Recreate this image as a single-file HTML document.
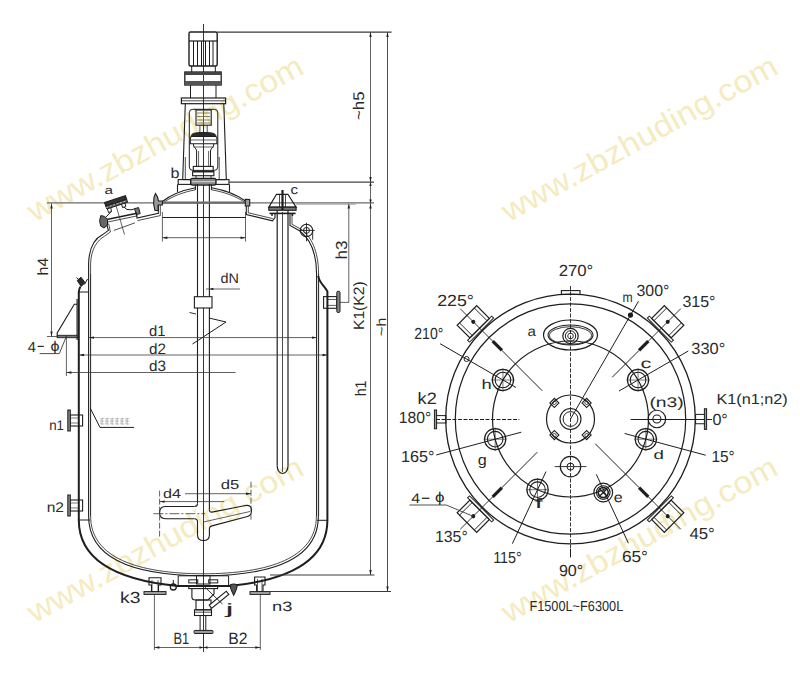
<!DOCTYPE html>
<html><head><meta charset="utf-8"><style>
html,body{margin:0;padding:0;background:#fff;width:800px;height:678px;overflow:hidden}
svg{display:block}
text{font-family:"Liberation Sans",sans-serif;text-rendering:geometricPrecision}
</style></head><body>
<svg width="800" height="678" viewBox="0 0 800 678">
<rect width="800" height="678" fill="#ffffff"/>
<text x="0" y="0" font-size="31" fill="#f5ebc0" transform="translate(34.5,222.6) rotate(-28.9)" textLength="310" lengthAdjust="spacingAndGlyphs">www.zbzhuding.com</text>
<text x="0" y="0" font-size="31" fill="#f5ebc0" transform="translate(508.7,222.6) rotate(-28.9)" textLength="310" lengthAdjust="spacingAndGlyphs">www.zbzhuding.com</text>
<text x="0" y="0" font-size="31" fill="#f5ebc0" transform="translate(34.5,623.6) rotate(-28.9)" textLength="310" lengthAdjust="spacingAndGlyphs">www.zbzhuding.com</text>
<text x="0" y="0" font-size="31" fill="#f5ebc0" transform="translate(508.7,623.6) rotate(-28.9)" textLength="310" lengthAdjust="spacingAndGlyphs">www.zbzhuding.com</text>
<line x1="203.50" y1="24.00" x2="203.50" y2="652.00" stroke="#1e1e1e" stroke-width="0.9" />
<rect x="189.00" y="32.00" width="28.20" height="34.00" stroke="#1e1e1e" stroke-width="1.4" fill="none" rx="1.5"/>
<line x1="189.00" y1="41.00" x2="217.20" y2="41.00" stroke="#1e1e1e" stroke-width="1.2" />
<line x1="193.50" y1="41.00" x2="193.50" y2="66.00" stroke="#1e1e1e" stroke-width="1.0" />
<line x1="197.50" y1="41.00" x2="197.50" y2="66.00" stroke="#1e1e1e" stroke-width="1.0" />
<line x1="201.50" y1="41.00" x2="201.50" y2="66.00" stroke="#1e1e1e" stroke-width="1.0" />
<line x1="205.50" y1="41.00" x2="205.50" y2="66.00" stroke="#1e1e1e" stroke-width="1.0" />
<line x1="209.50" y1="41.00" x2="209.50" y2="66.00" stroke="#1e1e1e" stroke-width="1.0" />
<line x1="213.00" y1="41.00" x2="213.00" y2="66.00" stroke="#1e1e1e" stroke-width="1.0" />
<line x1="191.70" y1="66.00" x2="191.70" y2="72.00" stroke="#1e1e1e" stroke-width="1.0" />
<line x1="215.30" y1="66.00" x2="215.30" y2="72.00" stroke="#1e1e1e" stroke-width="1.0" />
<rect x="184.80" y="72.00" width="36.40" height="13.00" stroke="#1e1e1e" stroke-width="1.3" fill="none" rx="0"/>
<rect x="184.80" y="72.00" width="36.40" height="3.00" stroke="#1e1e1e" stroke-width="0" fill="#444" rx="0"/>
<rect x="184.80" y="81.00" width="36.40" height="4.00" stroke="#1e1e1e" stroke-width="0" fill="#555" rx="0"/>
<line x1="190.50" y1="85.00" x2="190.50" y2="98.00" stroke="#1e1e1e" stroke-width="1.0" />
<line x1="216.00" y1="85.00" x2="216.00" y2="98.00" stroke="#1e1e1e" stroke-width="1.0" />
<rect x="181.40" y="98.00" width="44.20" height="5.70" stroke="#1e1e1e" stroke-width="1.2" fill="none" rx="0"/>
<line x1="181.40" y1="100.80" x2="225.60" y2="100.80" stroke="#1e1e1e" stroke-width="0.8" />
<path d="M185.3,103.5 L182.7,179.7" stroke="#1e1e1e" stroke-width="1.1" fill="none" />
<path d="M223.8,103.5 L226.3,179.7" stroke="#1e1e1e" stroke-width="1.1" fill="none" />
<path d="M185.3,157 L185.3,179.7 M219.2,157 L219.2,179.7" stroke="#1e1e1e" stroke-width="0.8" fill="none" />
<line x1="182.70" y1="179.70" x2="226.30" y2="179.70" stroke="#1e1e1e" stroke-width="0.8" />
<rect x="189.30" y="109.30" width="28.50" height="61.10" stroke="#1e1e1e" stroke-width="1.0" fill="none" rx="3.5"/>
<rect x="196.00" y="110.00" width="15.20" height="15.20" stroke="#1e1e1e" stroke-width="1.1" fill="none" rx="0"/>
<g stroke="#6f6235" stroke-width="0.8" fill="none"><path d="M197,113 h13"/><path d="M197,116.5 h13"/><path d="M197,120 h13"/><path d="M197,123 h13"/><path d="M203.5,110 v15"/></g>
<line x1="199.90" y1="125.20" x2="199.90" y2="132.50" stroke="#1e1e1e" stroke-width="0.8" />
<line x1="207.20" y1="125.20" x2="207.20" y2="132.50" stroke="#1e1e1e" stroke-width="0.8" />
<path d="M191.3,136.5 C191.3,133.5 194,132.5 203.5,132.5 C213,132.5 215.9,133.5 215.9,136.5 Z" stroke="#1e1e1e" stroke-width="1.0" fill="#2a2a2a" />
<path d="M190.3,143.8 L190.3,138 Q190.3,136.5 192,136.5 L215,136.5 Q216.9,136.5 216.9,138 L216.9,143.8 Z" stroke="#1e1e1e" stroke-width="1.1" fill="none" />
<line x1="191.00" y1="140.00" x2="216.00" y2="140.00" stroke="#1e1e1e" stroke-width="0.7" />
<path d="M193.3,143.8 C193.3,148 196.6,148 196.6,151 L196.6,166.4 M213.9,143.8 C213.9,148 210.5,148 210.5,151 L210.5,166.4" stroke="#1e1e1e" stroke-width="1.0" fill="none" />
<line x1="193.30" y1="147.00" x2="213.90" y2="147.00" stroke="#1e1e1e" stroke-width="0.7" />
<line x1="198.60" y1="151.00" x2="198.60" y2="166.40" stroke="#1e1e1e" stroke-width="0.7" />
<line x1="208.60" y1="151.00" x2="208.60" y2="166.40" stroke="#1e1e1e" stroke-width="0.7" />
<rect x="193.30" y="166.40" width="19.90" height="5.30" stroke="#1e1e1e" stroke-width="1.1" fill="none" rx="0"/>
<rect x="192.60" y="171.70" width="21.30" height="4.00" stroke="#1e1e1e" stroke-width="1.1" fill="none" rx="0"/>
<line x1="196.00" y1="175.70" x2="196.00" y2="178.30" stroke="#1e1e1e" stroke-width="0.9" />
<line x1="211.00" y1="175.70" x2="211.00" y2="178.30" stroke="#1e1e1e" stroke-width="0.9" />
<rect x="178.20" y="179.60" width="50.80" height="4.80" stroke="#1e1e1e" stroke-width="1.1" fill="none" rx="0"/>
<rect x="190.60" y="178.30" width="25.40" height="6.80" stroke="#1e1e1e" stroke-width="1.3" fill="#888" rx="2"/>
<line x1="192.00" y1="181.70" x2="215.00" y2="181.70" stroke="#fff" stroke-width="0.7" />
<line x1="177.50" y1="184.40" x2="177.50" y2="192.00" stroke="#1e1e1e" stroke-width="1.1" />
<line x1="229.50" y1="184.40" x2="229.50" y2="192.00" stroke="#1e1e1e" stroke-width="1.1" />
<text x="170.50" y="177.50" font-size="14.5" fill="#2a2a2a" textLength="9.00" lengthAdjust="spacingAndGlyphs">b</text>
<line x1="217.20" y1="32.10" x2="391.60" y2="32.10" stroke="#3a3a3a" stroke-width="1.1" />
<line x1="229.00" y1="182.10" x2="374.00" y2="182.10" stroke="#444" stroke-width="1.3" />
<line x1="47.00" y1="202.80" x2="374.00" y2="202.80" stroke="#6a6a6a" stroke-width="1.2" />
<line x1="47.00" y1="336.50" x2="77.00" y2="336.50" stroke="#3a3a3a" stroke-width="0.8" />
<line x1="197.50" y1="184.00" x2="197.50" y2="503.50" stroke="#1e1e1e" stroke-width="1.1" />
<line x1="209.40" y1="184.00" x2="209.40" y2="509.50" stroke="#1e1e1e" stroke-width="1.1" />
<path d="M197.5,503.5 Q197.5,506.5 194.5,506.5 M209.4,509.5 Q209.4,512.4 212,512.1" stroke="#1e1e1e" stroke-width="1.1" fill="none" />
<path d="M194.5,518.8 Q197.5,518.8 197.5,522 L197.5,535 Q197.5,540.5 203.5,540.5 Q209.4,540.5 209.4,535 L209.4,529 Q209.4,526.4 212,525.9" stroke="#1e1e1e" stroke-width="1.1" fill="none" />
<path d="M162.4,201.5 C172,194 184,190 195.4,187.8" stroke="#1e1e1e" stroke-width="1.1" fill="none" />
<path d="M162.4,203.3 C172,196 184,192 195.4,189.8" stroke="#1e1e1e" stroke-width="0.8" fill="none" />
<path d="M246.3,201.5 C236,194 224,190 211.4,187.8" stroke="#1e1e1e" stroke-width="1.1" fill="none" />
<path d="M246.3,203.3 C236,196 224,192 211.4,189.8" stroke="#1e1e1e" stroke-width="0.8" fill="none" />
<line x1="195.40" y1="184.40" x2="195.40" y2="190.00" stroke="#1e1e1e" stroke-width="1.0" />
<line x1="211.40" y1="184.40" x2="211.40" y2="190.00" stroke="#1e1e1e" stroke-width="1.0" />
<line x1="157.60" y1="202.60" x2="249.00" y2="202.60" stroke="#6a6a6a" stroke-width="2.2" />
<path d="M155.5,193.4 L157.5,197 L158.5,201 L162.4,201 L162.4,205 L158.3,205 L158.3,210.5 L155,210.5 L153.6,204 L154,197 Z" stroke="#1e1e1e" stroke-width="1.1" fill="#999" />
<path d="M245.3,199.2 L249.7,199.5 L249.7,206 L245.3,206 Z" stroke="#1e1e1e" stroke-width="1.1" fill="#999" />
<line x1="162.40" y1="217.50" x2="246.00" y2="217.50" stroke="#1e1e1e" stroke-width="1.0" />
<line x1="162.40" y1="212.00" x2="162.40" y2="241.50" stroke="#3a3a3a" stroke-width="0.8" />
<line x1="245.50" y1="212.00" x2="245.50" y2="241.50" stroke="#3a3a3a" stroke-width="0.8" />
<line x1="162.40" y1="237.70" x2="245.50" y2="237.70" stroke="#3a3a3a" stroke-width="0.8" />
<path d="M162.40,237.70 L167.40,236.50 L167.40,238.90 Z" fill="#1e1e1e" stroke="none"/>
<path d="M245.50,237.70 L240.50,238.90 L240.50,236.50 Z" fill="#1e1e1e" stroke="none"/>
<path d="M88.6,274 L88.6,264 C89,246 96,238 102.7,234.6 L108.4,230.4 L106.6,224.2" stroke="#1e1e1e" stroke-width="1.1" fill="none" />
<path d="M90.6,274 L90.6,264 C91,248 98,240 104.5,236.2 L110.4,232 L108.6,223.6" stroke="#1e1e1e" stroke-width="0.8" fill="none" />
<path d="M136.5,214 L137,218 L158.3,213.2 L158.3,205" stroke="#1e1e1e" stroke-width="1.1" fill="none" />
<path d="M137.5,220.6 L160.3,215.6 L160.3,205" stroke="#1e1e1e" stroke-width="0.8" fill="none" />
<path d="M104.6,202.6 L125.4,195.8 L126.6,199.2 L105.8,206 Z" stroke="#1e1e1e" stroke-width="1.1" fill="#333" />
<path d="M105.8,206 L126.6,199.2 L127.6,202.3 L106.8,209 Z" stroke="#1e1e1e" stroke-width="1.0" fill="#555" />
<line x1="106.30" y1="207.50" x2="127.00" y2="200.70" stroke="#eee" stroke-width="0.7" stroke-dasharray="2,1.6"/>
<path d="M107.5,209 L108.5,212.5 L111.5,211.6 L110.8,208 M121.5,204.2 L122.6,207.6 L125.8,206.6 L125,203.1" stroke="#1e1e1e" stroke-width="1.0" fill="none" />
<path d="M111.2,211.6 L102.8,220.3 M123.8,207 Q126.5,210.5 131,209.8 L135,208.8" stroke="#1e1e1e" stroke-width="1.0" fill="none" />
<path d="M134.6,208.6 L138.6,207.6 L140.2,213.6 L136.2,214.6 Z" stroke="#1e1e1e" stroke-width="1.0" fill="#777" />
<path d="M102,220.5 L137,213.3" stroke="#1e1e1e" stroke-width="1.5" fill="none" />
<path d="M103,223 L137.6,215.8" stroke="#1e1e1e" stroke-width="0.8" fill="none" />
<path d="M100.8,215.6 L99.6,220.5 L100.6,226 L104,228 L107.5,225.2 L107.5,219.5 L104.6,216.4 Z" stroke="#1e1e1e" stroke-width="1.0" fill="#666" />
<line x1="114.00" y1="198.60" x2="124.50" y2="234.60" stroke="#3a3a3a" stroke-width="0.8" />
<line x1="114.00" y1="230.40" x2="135.00" y2="222.80" stroke="#3a3a3a" stroke-width="0.9" />
<text x="104.50" y="194.00" font-size="11.5" fill="#2a2a2a" textLength="8.50" lengthAdjust="spacingAndGlyphs">a</text>
<path d="M276.5,194.3 L287.9,194.3 L296.1,207.2 L268.8,207.2 Z" stroke="#1e1e1e" stroke-width="1.2" fill="none" />
<rect x="268.80" y="207.20" width="27.30" height="3.10" stroke="#1e1e1e" stroke-width="1.1" fill="#777" rx="0"/>
<line x1="269.50" y1="213.40" x2="295.60" y2="213.40" stroke="#1e1e1e" stroke-width="1.6" />
<line x1="272.00" y1="213.00" x2="272.00" y2="216.00" stroke="#1e1e1e" stroke-width="1.4" />
<line x1="292.50" y1="213.00" x2="292.50" y2="216.00" stroke="#1e1e1e" stroke-width="1.4" />
<line x1="282.50" y1="190.00" x2="282.50" y2="210.00" stroke="#1e1e1e" stroke-width="2.2" />
<line x1="279.50" y1="195.00" x2="279.50" y2="207.00" stroke="#1e1e1e" stroke-width="0.8" />
<line x1="285.50" y1="195.00" x2="285.50" y2="207.00" stroke="#1e1e1e" stroke-width="0.8" />
<text x="290.50" y="193.50" font-size="13" fill="#2a2a2a" textLength="7.50" lengthAdjust="spacingAndGlyphs">c</text>
<line x1="277.20" y1="210.30" x2="277.20" y2="465.40" stroke="#1e1e1e" stroke-width="1.2" />
<line x1="288.00" y1="210.30" x2="288.00" y2="465.40" stroke="#1e1e1e" stroke-width="1.2" />
<line x1="282.50" y1="212.00" x2="282.50" y2="472.00" stroke="#1e1e1e" stroke-width="0.8" />
<path d="M277.2,465.4 Q277.2,472.5 282.6,473.5 Q288,472.5 288,465.4" stroke="#1e1e1e" stroke-width="1.2" fill="none" />
<path d="M246.3,206 L246.3,214.5 L272.5,220.8 L275,217.5 L275,213.4" stroke="#1e1e1e" stroke-width="1.1" fill="none" />
<path d="M248.3,206 L248.3,212.8 L272.8,218.6" stroke="#1e1e1e" stroke-width="0.8" fill="none" />
<path d="M290,213.4 L290,225.5 L299.5,230.8 C309,238 316.6,252 316.6,274" stroke="#1e1e1e" stroke-width="1.1" fill="none" />
<path d="M292,213.4 L292,224.3 L301,229.2 C311,236 318.6,251 318.6,274" stroke="#1e1e1e" stroke-width="0.8" fill="none" />
<circle cx="306.50" cy="230.40" r="6.20" stroke="#1e1e1e" stroke-width="1.1" fill="none" />
<circle cx="306.50" cy="230.40" r="3.00" stroke="#1e1e1e" stroke-width="1.0" fill="none" />
<line x1="299.70" y1="230.40" x2="314.70" y2="230.40" stroke="#1e1e1e" stroke-width="0.9" />
<line x1="306.50" y1="222.70" x2="306.50" y2="241.30" stroke="#1e1e1e" stroke-width="0.9" />
<line x1="312.70" y1="230.40" x2="312.70" y2="239.70" stroke="#1e1e1e" stroke-width="0.9" />
<line x1="88.60" y1="274.00" x2="88.60" y2="516.00" stroke="#1e1e1e" stroke-width="1.1" />
<line x1="90.60" y1="274.00" x2="90.60" y2="516.00" stroke="#1e1e1e" stroke-width="1.0" />
<line x1="316.60" y1="274.00" x2="316.60" y2="516.00" stroke="#1e1e1e" stroke-width="1.1" />
<line x1="318.60" y1="274.00" x2="318.60" y2="516.00" stroke="#1e1e1e" stroke-width="1.0" />
<path d="M80.4,286.6 C79.2,289 78.8,290 78.8,292 L78.8,520" stroke="#1e1e1e" stroke-width="2.0" fill="none" />
<line x1="78.80" y1="292.00" x2="88.60" y2="292.00" stroke="#1e1e1e" stroke-width="1.0" />
<path d="M318.3,276 C319,283 325,286 327.4,291.3 L327.4,520" stroke="#1e1e1e" stroke-width="2.0" fill="none" />
<line x1="78.80" y1="520.00" x2="90.00" y2="520.00" stroke="#1e1e1e" stroke-width="1.0" />
<line x1="317.00" y1="520.30" x2="327.40" y2="520.30" stroke="#1e1e1e" stroke-width="1.0" />
<path d="M77.2,280.5 L81,277.2 L85,282.6 L81.2,286.6 Z" fill="#2a2a2a" stroke="#222" stroke-width="1"/>
<line x1="76.50" y1="277.50" x2="78.50" y2="279.50" stroke="#1e1e1e" stroke-width="1.0" />
<line x1="84.50" y1="284.50" x2="87.60" y2="278.80" stroke="#1e1e1e" stroke-width="1.0" />
<path d="M88.6,516 C88.6,560 137,575.5 203.5,575.8 C270,575.5 318.4,560 318.4,516" stroke="#1e1e1e" stroke-width="1.1" fill="none" />
<path d="M90.6,516 C90.6,558 138,573.5 203.5,573.8 C269,573.5 316.4,558 316.4,516" stroke="#1e1e1e" stroke-width="0.8" fill="none" />
<path d="M78.8,520 C78.8,560 117,580 177.5,586 L229.5,586 C290,580 327.4,560 327.4,520" stroke="#1e1e1e" stroke-width="2.0" fill="none" />
<path d="M77.1,304.3 L74.3,304.3 L57.2,333 L57.2,335.8" stroke="#1e1e1e" stroke-width="1.1" fill="none" />
<line x1="77.10" y1="299.00" x2="77.10" y2="340.00" stroke="#1e1e1e" stroke-width="1.2" />
<rect x="57.20" y="335.30" width="19.90" height="2.40" stroke="#1e1e1e" stroke-width="0.9" fill="#777" rx="0"/>
<text x="27.80" y="351.60" font-size="14.5" fill="#2a2a2a" textLength="8.20" lengthAdjust="spacingAndGlyphs">4</text>
<line x1="37.60" y1="346.40" x2="43.80" y2="346.40" stroke="#2a2a2a" stroke-width="1.2" />
<text x="50.50" y="350.50" font-size="14" fill="#2a2a2a" textLength="9.00" lengthAdjust="spacingAndGlyphs">ϕ</text>
<path d="M39.6,353.6 L59.3,353.6 L66.5,336" stroke="#3a3a3a" stroke-width="0.9" fill="none" />
<line x1="66.40" y1="336.00" x2="66.40" y2="376.00" stroke="#3a3a3a" stroke-width="0.8" />
<line x1="51.50" y1="203.50" x2="51.50" y2="336.50" stroke="#3a3a3a" stroke-width="0.8" />
<path d="M51.50,203.50 L52.70,208.50 L50.30,208.50 Z" fill="#1e1e1e" stroke="none"/>
<path d="M51.50,336.50 L50.30,331.50 L52.70,331.50 Z" fill="#1e1e1e" stroke="none"/>
<text x="0" y="0" font-size="15" fill="#2a2a2a" textLength="17.70" lengthAdjust="spacingAndGlyphs" transform="translate(48.00,275.40) rotate(-90)">h4</text>
<rect x="323.60" y="296.60" width="13.20" height="11.70" stroke="#1e1e1e" stroke-width="1.1" fill="none" rx="0"/>
<line x1="327.50" y1="299.50" x2="336.80" y2="299.50" stroke="#1e1e1e" stroke-width="0.7" />
<line x1="327.50" y1="305.40" x2="336.80" y2="305.40" stroke="#1e1e1e" stroke-width="0.7" />
<rect x="336.80" y="291.30" width="3.20" height="21.20" stroke="#1e1e1e" stroke-width="1.0" fill="#888" rx="1.2"/>
<line x1="339.70" y1="302.40" x2="349.00" y2="302.40" stroke="#3a3a3a" stroke-width="0.8" />
<line x1="89.00" y1="337.60" x2="317.00" y2="337.60" stroke="#3a3a3a" stroke-width="0.8" />
<path d="M89.00,337.60 L94.00,336.40 L94.00,338.80 Z" fill="#1e1e1e" stroke="none"/>
<path d="M317.00,337.60 L312.00,338.80 L312.00,336.40 Z" fill="#1e1e1e" stroke="none"/>
<line x1="79.00" y1="355.00" x2="327.50" y2="355.00" stroke="#3a3a3a" stroke-width="0.8" />
<path d="M79.00,355.00 L84.00,353.80 L84.00,356.20 Z" fill="#1e1e1e" stroke="none"/>
<path d="M327.50,355.00 L322.50,356.20 L322.50,353.80 Z" fill="#1e1e1e" stroke="none"/>
<line x1="66.40" y1="372.50" x2="235.60" y2="372.50" stroke="#3a3a3a" stroke-width="0.8" />
<path d="M66.40,372.50 L71.40,371.30 L71.40,373.70 Z" fill="#1e1e1e" stroke="none"/>
<text x="149.00" y="336.00" font-size="15" fill="#2a2a2a" textLength="16.50" lengthAdjust="spacingAndGlyphs">d1</text>
<text x="149.00" y="353.50" font-size="15" fill="#2a2a2a" textLength="17.00" lengthAdjust="spacingAndGlyphs">d2</text>
<text x="149.00" y="371.00" font-size="15" fill="#2a2a2a" textLength="17.00" lengthAdjust="spacingAndGlyphs">d3</text>
<text x="220.60" y="283.00" font-size="14" fill="#2a2a2a" textLength="18.40" lengthAdjust="spacingAndGlyphs">dN</text>
<line x1="206.00" y1="289.00" x2="240.00" y2="289.00" stroke="#3a3a3a" stroke-width="0.8" />
<path d="M209.40,289.00 L213.40,287.80 L213.40,290.20 Z" fill="#1e1e1e" stroke="none"/>
<rect x="194.40" y="296.70" width="17.60" height="11.30" stroke="#1e1e1e" stroke-width="1.1" fill="#fff" rx="0"/>
<line x1="189.50" y1="312.50" x2="196.00" y2="314.00" stroke="#1e1e1e" stroke-width="0.9" />
<path d="M192.5,344 L226,322 L209,318" stroke="#1e1e1e" stroke-width="1.0" fill="none" />
<rect x="70.30" y="415.00" width="12.30" height="11.00" stroke="#1e1e1e" stroke-width="1.1" fill="none" rx="0"/>
<line x1="70.30" y1="418.00" x2="79.00" y2="418.00" stroke="#1e1e1e" stroke-width="0.6" />
<line x1="70.30" y1="423.00" x2="79.00" y2="423.00" stroke="#1e1e1e" stroke-width="0.6" />
<rect x="67.80" y="410.00" width="2.50" height="21.00" stroke="#1e1e1e" stroke-width="1.0" fill="#888" rx="0"/>
<rect x="70.30" y="500.00" width="12.30" height="11.00" stroke="#1e1e1e" stroke-width="1.1" fill="none" rx="0"/>
<line x1="70.30" y1="503.00" x2="79.00" y2="503.00" stroke="#1e1e1e" stroke-width="0.6" />
<line x1="70.30" y1="508.00" x2="79.00" y2="508.00" stroke="#1e1e1e" stroke-width="0.6" />
<rect x="67.80" y="495.00" width="2.50" height="21.00" stroke="#1e1e1e" stroke-width="1.0" fill="#888" rx="0"/>
<text x="49.20" y="430.30" font-size="14" fill="#2a2a2a" textLength="14.80" lengthAdjust="spacingAndGlyphs">n1</text>
<text x="46.70" y="512.00" font-size="14" fill="#2a2a2a" textLength="17.30" lengthAdjust="spacingAndGlyphs">n2</text>
<path d="M90.3,408.3 L100,427.4 L134.1,427.4" stroke="#1e1e1e" stroke-width="1.0" fill="none" />
<g stroke="#999" stroke-width="0.55" fill="none"><path d="M100.5,418.5 h3.8 M100.8,421 h3.4 M100.5,424 h3.8 M102.4,417.8 v6.8 M101.0,419 v5" /><path d="M105.5,418.5 h3.8 M105.8,421 h3.4 M105.5,424 h3.8 M107.4,417.8 v6.8 M106.0,419 v5" /><path d="M110.5,418.5 h3.8 M110.8,421 h3.4 M110.5,424 h3.8 M112.4,417.8 v6.8 M111.0,419 v5" /><path d="M115.5,418.5 h3.8 M115.8,421 h3.4 M115.5,424 h3.8 M117.4,417.8 v6.8 M116.0,419 v5" /><path d="M120.5,418.5 h3.8 M120.8,421 h3.4 M120.5,424 h3.8 M122.4,417.8 v6.8 M121.0,419 v5" /><path d="M125.5,418.5 h3.8 M125.8,421 h3.4 M125.5,424 h3.8 M127.4,417.8 v6.8 M126.0,419 v5" /></g>
<path d="M194.5,506.5 L165.5,506.5 Q159.6,506.5 159.6,512.6 Q159.6,518.8 165.5,518.8 L194.5,518.8" stroke="#1e1e1e" stroke-width="1.1" fill="none" />
<path d="M212,512.1 L245.5,505.5 Q251.5,504.5 251.5,510.5 Q251.5,515.5 247.5,516.5 L212,525.9" stroke="#1e1e1e" stroke-width="1.1" fill="none" />
<line x1="153.40" y1="513.70" x2="205.00" y2="513.70" stroke="#3a3a3a" stroke-width="0.8" stroke-dasharray="10,2,2,2"/>
<line x1="203.50" y1="522.00" x2="250.00" y2="511.50" stroke="#3a3a3a" stroke-width="0.8" />
<line x1="159.60" y1="490.60" x2="159.60" y2="537.40" stroke="#3a3a3a" stroke-width="0.8" stroke-dasharray="6,2"/>
<line x1="159.60" y1="501.60" x2="224.30" y2="501.60" stroke="#3a3a3a" stroke-width="0.8" />
<path d="M159.60,501.60 L164.60,500.40 L164.60,502.80 Z" fill="#1e1e1e" stroke="none"/>
<text x="163.00" y="498.20" font-size="13" fill="#2a2a2a" textLength="18.00" lengthAdjust="spacingAndGlyphs">d4</text>
<line x1="251.00" y1="481.70" x2="251.00" y2="521.60" stroke="#3a3a3a" stroke-width="0.8" stroke-dasharray="6,2"/>
<line x1="185.00" y1="493.70" x2="251.00" y2="493.70" stroke="#3a3a3a" stroke-width="0.8" />
<path d="M251.00,493.70 L246.00,494.90 L246.00,492.50 Z" fill="#1e1e1e" stroke="none"/>
<text x="220.80" y="489.30" font-size="13" fill="#2a2a2a" textLength="18.60" lengthAdjust="spacingAndGlyphs">d5</text>
<path d="M149,577.8 L161,577.8 L161,585 L158.5,585 L158.5,591.6 L151.5,591.6 L151.5,585 L149,585 Z" stroke="#1e1e1e" stroke-width="1.1" fill="none" />
<line x1="152.00" y1="580.00" x2="152.00" y2="591.00" stroke="#1e1e1e" stroke-width="0.7" />
<line x1="158.00" y1="580.00" x2="158.00" y2="591.00" stroke="#1e1e1e" stroke-width="0.7" />
<rect x="144.00" y="591.60" width="22.00" height="2.80" stroke="#1e1e1e" stroke-width="1.0" fill="#aaa" rx="0"/>
<line x1="173.30" y1="580.00" x2="173.30" y2="584.00" stroke="#1e1e1e" stroke-width="1.0" />
<circle cx="173.30" cy="587.00" r="3.00" stroke="#1e1e1e" stroke-width="1.3" fill="none" />
<line x1="178.20" y1="575.80" x2="178.20" y2="586.00" stroke="#1e1e1e" stroke-width="1.0" />
<path d="M254.6,577 L265,577 L265,585 L263,585 L263,591.6 L256.6,591.6 L256.6,585 L254.6,585 Z" stroke="#1e1e1e" stroke-width="1.1" fill="none" />
<line x1="257.50" y1="579.00" x2="257.50" y2="591.00" stroke="#1e1e1e" stroke-width="0.7" />
<line x1="262.00" y1="579.00" x2="262.00" y2="591.00" stroke="#1e1e1e" stroke-width="0.7" />
<rect x="250.00" y="591.60" width="20.00" height="2.80" stroke="#1e1e1e" stroke-width="1.0" fill="#aaa" rx="0"/>
<line x1="228.60" y1="575.80" x2="228.60" y2="586.00" stroke="#1e1e1e" stroke-width="1.0" />
<path d="M230.2,585 Q233.7,583 237.2,585 Q237.2,588.5 233.7,595.3 Q230.2,588.5 230.2,585 Z" stroke="#1e1e1e" stroke-width="1.1" fill="#555" />
<line x1="178.20" y1="575.80" x2="228.60" y2="575.80" stroke="#1e1e1e" stroke-width="1.0" />
<rect x="196.50" y="575.50" width="13.50" height="8.50" stroke="#1e1e1e" stroke-width="1.0" fill="none" rx="0"/>
<rect x="188.80" y="579.80" width="9.00" height="3.10" stroke="#1e1e1e" stroke-width="1.0" fill="none" rx="0"/>
<rect x="208.70" y="579.80" width="9.00" height="3.10" stroke="#1e1e1e" stroke-width="1.0" fill="none" rx="0"/>
<rect x="188.80" y="586.00" width="28.90" height="2.60" stroke="#1e1e1e" stroke-width="1.1" fill="none" rx="0"/>
<path d="M191.9,588.6 L191.9,597 Q191.9,600 195.5,600 L208,600 L214,594 L214,588.6" stroke="#1e1e1e" stroke-width="1.1" fill="none" />
<rect x="196.00" y="600.00" width="15.00" height="9.80" stroke="#1e1e1e" stroke-width="1.1" fill="none" rx="0"/>
<rect x="194.50" y="609.80" width="17.00" height="5.70" stroke="#1e1e1e" stroke-width="1.1" fill="none" rx="0"/>
<line x1="194.50" y1="612.20" x2="211.50" y2="612.20" stroke="#1e1e1e" stroke-width="0.8" />
<line x1="200.10" y1="615.50" x2="200.10" y2="630.40" stroke="#1e1e1e" stroke-width="1.0" />
<line x1="205.80" y1="615.50" x2="205.80" y2="630.40" stroke="#1e1e1e" stroke-width="1.0" />
<rect x="194.00" y="630.40" width="19.00" height="3.10" stroke="#1e1e1e" stroke-width="1.0" fill="#999" rx="1"/>
<g transform="translate(219,599.7) rotate(-39)"><rect x="-11" y="-2" width="22" height="4" stroke="#1e1e1e" stroke-width="1.1" fill="#fff"/></g>
<line x1="204.80" y1="587.00" x2="222.40" y2="604.00" stroke="#1e1e1e" stroke-width="0.9" />
<text x="225.40" y="614.00" font-size="15" fill="#2a2a2a" textLength="8.10" lengthAdjust="spacingAndGlyphs">j</text>
<line x1="154.40" y1="594.00" x2="154.40" y2="650.00" stroke="#3a3a3a" stroke-width="0.8" />
<line x1="260.30" y1="594.00" x2="260.30" y2="650.00" stroke="#3a3a3a" stroke-width="0.8" />
<line x1="154.40" y1="647.50" x2="260.30" y2="647.50" stroke="#3a3a3a" stroke-width="0.8" />
<path d="M154.40,647.50 L159.40,646.30 L159.40,648.70 Z" fill="#1e1e1e" stroke="none"/>
<path d="M260.30,647.50 L255.30,648.70 L255.30,646.30 Z" fill="#1e1e1e" stroke="none"/>
<path d="M203.50,647.50 L199.50,648.70 L199.50,646.30 Z" fill="#1e1e1e" stroke="none"/>
<path d="M203.50,647.50 L207.50,646.30 L207.50,648.70 Z" fill="#1e1e1e" stroke="none"/>
<text x="173.50" y="644.40" font-size="16.5" fill="#2a2a2a" textLength="15.70" lengthAdjust="spacingAndGlyphs">B1</text>
<text x="228.20" y="644.40" font-size="16.5" fill="#2a2a2a" textLength="19.20" lengthAdjust="spacingAndGlyphs">B2</text>
<text x="120.10" y="602.80" font-size="16" fill="#2a2a2a" textLength="20.40" lengthAdjust="spacingAndGlyphs">k3</text>
<text x="272.10" y="611.00" font-size="13.5" fill="#2a2a2a" textLength="20.40" lengthAdjust="spacingAndGlyphs">n3</text>
<line x1="270.00" y1="575.00" x2="374.40" y2="575.00" stroke="#3a3a3a" stroke-width="1.0" />
<line x1="270.00" y1="591.50" x2="391.00" y2="591.50" stroke="#3a3a3a" stroke-width="1.0" />
<line x1="370.50" y1="32.10" x2="370.50" y2="182.00" stroke="#3a3a3a" stroke-width="0.8" />
<path d="M370.50,32.10 L371.70,37.10 L369.30,37.10 Z" fill="#1e1e1e" stroke="none"/>
<path d="M370.50,182.00 L369.30,177.00 L371.70,177.00 Z" fill="#1e1e1e" stroke="none"/>
<line x1="370.50" y1="182.00" x2="370.50" y2="203.50" stroke="#3a3a3a" stroke-width="0.8" />
<path d="M370.50,182.00 L371.70,186.00 L369.30,186.00 Z" fill="#1e1e1e" stroke="none"/>
<path d="M370.50,203.50 L369.30,199.50 L371.70,199.50 Z" fill="#1e1e1e" stroke="none"/>
<line x1="370.50" y1="203.50" x2="370.50" y2="575.00" stroke="#3a3a3a" stroke-width="0.8" />
<path d="M370.50,203.50 L371.70,208.50 L369.30,208.50 Z" fill="#1e1e1e" stroke="none"/>
<path d="M370.50,575.00 L369.30,570.00 L371.70,570.00 Z" fill="#1e1e1e" stroke="none"/>
<line x1="387.50" y1="32.10" x2="387.50" y2="591.50" stroke="#3a3a3a" stroke-width="0.9" />
<path d="M387.50,32.10 L388.70,37.10 L386.30,37.10 Z" fill="#1e1e1e" stroke="none"/>
<path d="M387.50,591.50 L386.30,586.50 L388.70,586.50 Z" fill="#1e1e1e" stroke="none"/>
<line x1="348.80" y1="203.50" x2="348.80" y2="302.40" stroke="#3a3a3a" stroke-width="0.8" />
<path d="M348.80,203.50 L350.00,208.50 L347.60,208.50 Z" fill="#1e1e1e" stroke="none"/>
<line x1="296.00" y1="204.20" x2="356.00" y2="204.20" stroke="#999" stroke-width="0.9" />
<text x="0" y="0" font-size="15.5" fill="#2a2a2a" textLength="28.50" lengthAdjust="spacingAndGlyphs" transform="translate(364.40,120.00) rotate(-90)">~h5</text>
<text x="0" y="0" font-size="16" fill="#2a2a2a" textLength="18.90" lengthAdjust="spacingAndGlyphs" transform="translate(346.90,259.50) rotate(-90)">h3</text>
<text x="0" y="0" font-size="15" fill="#2a2a2a" textLength="48.60" lengthAdjust="spacingAndGlyphs" transform="translate(363.80,330.00) rotate(-90)">K1(K2)</text>
<text x="0" y="0" font-size="13.5" fill="#2a2a2a" textLength="18.80" lengthAdjust="spacingAndGlyphs" transform="translate(385.90,336.30) rotate(-90)">~h</text>
<text x="0" y="0" font-size="15.5" fill="#2a2a2a" textLength="15.80" lengthAdjust="spacingAndGlyphs" transform="translate(366.20,396.30) rotate(-90)">h1</text>
<circle cx="570.50" cy="419.00" r="124.80" stroke="#1e1e1e" stroke-width="1.3" fill="none" />
<circle cx="570.50" cy="419.00" r="115.20" stroke="#1e1e1e" stroke-width="1.2" fill="none" />
<circle cx="570.50" cy="419.00" r="78.00" stroke="#1e1e1e" stroke-width="1.2" fill="none" />
<circle cx="570.50" cy="419.00" r="24.00" stroke="#1e1e1e" stroke-width="1.2" fill="none" />
<circle cx="570.50" cy="419.00" r="10.50" stroke="#1e1e1e" stroke-width="1.1" fill="none" />
<circle cx="570.50" cy="419.00" r="7.40" stroke="#1e1e1e" stroke-width="1.0" fill="none" />
<g transform="translate(586.62,435.12) rotate(45)"><rect x="-3.2" y="-3.2" width="6.4" height="6.4" stroke="#1e1e1e" stroke-width="1.1" fill="none"/><rect x="-1.5" y="-1.5" width="3" height="3" stroke="#1e1e1e" stroke-width="0.8" fill="none"/></g>
<g transform="translate(554.38,435.12) rotate(45)"><rect x="-3.2" y="-3.2" width="6.4" height="6.4" stroke="#1e1e1e" stroke-width="1.1" fill="none"/><rect x="-1.5" y="-1.5" width="3" height="3" stroke="#1e1e1e" stroke-width="0.8" fill="none"/></g>
<g transform="translate(554.38,402.88) rotate(45)"><rect x="-3.2" y="-3.2" width="6.4" height="6.4" stroke="#1e1e1e" stroke-width="1.1" fill="none"/><rect x="-1.5" y="-1.5" width="3" height="3" stroke="#1e1e1e" stroke-width="0.8" fill="none"/></g>
<g transform="translate(586.62,402.88) rotate(45)"><rect x="-3.2" y="-3.2" width="6.4" height="6.4" stroke="#1e1e1e" stroke-width="1.1" fill="none"/><rect x="-1.5" y="-1.5" width="3" height="3" stroke="#1e1e1e" stroke-width="0.8" fill="none"/></g>
<line x1="570.50" y1="286.00" x2="570.50" y2="557.50" stroke="#1e1e1e" stroke-width="0.9" stroke-dasharray="4,1.5"/>
<line x1="436.00" y1="419.50" x2="519.40" y2="419.50" stroke="#1e1e1e" stroke-width="1.0" stroke-dasharray="4,1.5"/>
<line x1="630.60" y1="419.50" x2="712.00" y2="419.50" stroke="#1e1e1e" stroke-width="1.0" />
<rect x="561.40" y="290.60" width="18.60" height="3.80" stroke="#1e1e1e" stroke-width="1.1" fill="none" rx="0"/>
<ellipse cx="570.5" cy="335" rx="27" ry="15" stroke="#1e1e1e" stroke-width="1.2" fill="none"/>
<ellipse cx="570.5" cy="335" rx="22.5" ry="10" stroke="#1e1e1e" stroke-width="1.1" fill="none"/>
<ellipse cx="570.5" cy="335.5" rx="21" ry="8.8" stroke="#1e1e1e" stroke-width="0.9" fill="none"/>
<circle cx="570.50" cy="336.00" r="7.70" stroke="#1e1e1e" stroke-width="1.2" fill="none" />
<circle cx="570.50" cy="336.00" r="5.20" stroke="#1e1e1e" stroke-width="1.0" fill="none" />
<circle cx="570.50" cy="336.00" r="2.80" stroke="#1e1e1e" stroke-width="0.9" fill="none" />
<text x="527.40" y="336.00" font-size="14" fill="#2a2a2a" textLength="8.40" lengthAdjust="spacingAndGlyphs">a</text>
<circle cx="638.05" cy="380.00" r="10.60" stroke="#1e1e1e" stroke-width="1.2" fill="none" />
<circle cx="638.05" cy="380.00" r="7.80" stroke="#1e1e1e" stroke-width="1.1" fill="none" />
<line x1="626.45" y1="380.00" x2="649.65" y2="380.00" stroke="#1e1e1e" stroke-width="0.6" />
<line x1="638.05" y1="368.40" x2="638.05" y2="391.60" stroke="#1e1e1e" stroke-width="0.6" />
<circle cx="645.84" cy="439.19" r="10.60" stroke="#1e1e1e" stroke-width="1.2" fill="none" />
<circle cx="645.84" cy="439.19" r="7.80" stroke="#1e1e1e" stroke-width="1.1" fill="none" />
<line x1="634.24" y1="439.19" x2="657.44" y2="439.19" stroke="#1e1e1e" stroke-width="0.6" />
<line x1="645.84" y1="427.59" x2="645.84" y2="450.79" stroke="#1e1e1e" stroke-width="0.6" />
<circle cx="495.16" cy="439.19" r="10.60" stroke="#1e1e1e" stroke-width="1.2" fill="none" />
<circle cx="495.16" cy="439.19" r="7.80" stroke="#1e1e1e" stroke-width="1.1" fill="none" />
<line x1="483.56" y1="439.19" x2="506.76" y2="439.19" stroke="#1e1e1e" stroke-width="0.6" />
<line x1="495.16" y1="427.59" x2="495.16" y2="450.79" stroke="#1e1e1e" stroke-width="0.6" />
<circle cx="502.95" cy="380.00" r="10.60" stroke="#1e1e1e" stroke-width="1.2" fill="none" />
<circle cx="502.95" cy="380.00" r="7.80" stroke="#1e1e1e" stroke-width="1.1" fill="none" />
<line x1="491.35" y1="380.00" x2="514.55" y2="380.00" stroke="#1e1e1e" stroke-width="0.6" />
<line x1="502.95" y1="368.40" x2="502.95" y2="391.60" stroke="#1e1e1e" stroke-width="0.6" />
<circle cx="537.54" cy="489.69" r="10.60" stroke="#1e1e1e" stroke-width="1.2" fill="none" />
<circle cx="537.54" cy="489.69" r="7.80" stroke="#1e1e1e" stroke-width="1.1" fill="none" />
<line x1="525.94" y1="489.69" x2="549.14" y2="489.69" stroke="#1e1e1e" stroke-width="0.6" />
<line x1="537.54" y1="478.09" x2="537.54" y2="501.29" stroke="#1e1e1e" stroke-width="0.6" />
<circle cx="603.24" cy="492.54" r="9.40" stroke="#1e1e1e" stroke-width="1.2" fill="none" />
<circle cx="603.24" cy="492.54" r="6.80" stroke="#1e1e1e" stroke-width="1.1" fill="none" />
<circle cx="603.24" cy="492.54" r="5.00" stroke="#1e1e1e" stroke-width="1.6" fill="none" />
<line x1="599.24" y1="488.54" x2="607.24" y2="496.54" stroke="#1e1e1e" stroke-width="1.2" />
<line x1="599.24" y1="496.54" x2="607.24" y2="488.54" stroke="#1e1e1e" stroke-width="1.2" />
<circle cx="656.90" cy="419.00" r="8.75" stroke="#1e1e1e" stroke-width="1.2" fill="none" />
<circle cx="656.90" cy="419.00" r="4.00" stroke="#1e1e1e" stroke-width="1.1" fill="none" />
<circle cx="570.50" cy="466.60" r="10.20" stroke="#1e1e1e" stroke-width="1.2" fill="none" />
<circle cx="570.50" cy="466.60" r="3.50" stroke="#1e1e1e" stroke-width="1.0" fill="none" />
<path d="M563.5,470.6 A7,7 0 0 1 577.5,470.6" stroke="#1e1e1e" stroke-width="0" fill="none"/>
<line x1="554.70" y1="466.60" x2="586.40" y2="466.60" stroke="#1e1e1e" stroke-width="0.9" />
<rect x="435.60" y="415.60" width="10.40" height="7.40" stroke="#1e1e1e" stroke-width="1.0" fill="none" rx="0"/>
<rect x="434.40" y="410.00" width="2.20" height="18.75" stroke="#1e1e1e" stroke-width="1.0" fill="#999" rx="0"/>
<rect x="695.60" y="414.40" width="9.40" height="9.35" stroke="#1e1e1e" stroke-width="1.0" fill="none" rx="0"/>
<rect x="704.40" y="408.75" width="2.20" height="20.65" stroke="#1e1e1e" stroke-width="1.0" fill="#999" rx="0"/>
<g transform="translate(667.73,516.23) rotate(135)"><rect x="-13.8" y="-9" width="27.6" height="18" stroke="#1e1e1e" stroke-width="1.2" fill="none"/><line x1="-10.5" y1="-9" x2="-10.5" y2="9" stroke="#1e1e1e" stroke-width="0.9"/><line x1="10.5" y1="-9" x2="10.5" y2="9" stroke="#1e1e1e" stroke-width="0.9"/><rect x="-17" y="9" width="34" height="2.8" stroke="#1e1e1e" stroke-width="1" fill="none"/><circle cx="0" cy="0" r="2" fill="#1e1e1e"/></g>
<line x1="680.81" y1="529.31" x2="642.62" y2="491.12" stroke="#1e1e1e" stroke-width="0.9" />
<line x1="648.28" y1="496.78" x2="639.09" y2="487.59" stroke="#1e1e1e" stroke-width="3.2" />
<line x1="639.09" y1="487.59" x2="595.25" y2="443.75" stroke="#1e1e1e" stroke-width="1.0" />
<g transform="translate(473.27,516.23) rotate(225)"><rect x="-13.8" y="-9" width="27.6" height="18" stroke="#1e1e1e" stroke-width="1.2" fill="none"/><line x1="-10.5" y1="-9" x2="-10.5" y2="9" stroke="#1e1e1e" stroke-width="0.9"/><line x1="10.5" y1="-9" x2="10.5" y2="9" stroke="#1e1e1e" stroke-width="0.9"/><rect x="-17" y="9" width="34" height="2.8" stroke="#1e1e1e" stroke-width="1" fill="none"/><circle cx="0" cy="0" r="2" fill="#1e1e1e"/></g>
<line x1="460.19" y1="529.31" x2="498.38" y2="491.12" stroke="#1e1e1e" stroke-width="0.9" />
<line x1="492.72" y1="496.78" x2="501.91" y2="487.59" stroke="#1e1e1e" stroke-width="3.2" />
<line x1="501.91" y1="487.59" x2="537.27" y2="452.23" stroke="#1e1e1e" stroke-width="1.0" />
<g transform="translate(473.27,321.77) rotate(315)"><rect x="-13.8" y="-9" width="27.6" height="18" stroke="#1e1e1e" stroke-width="1.2" fill="none"/><line x1="-10.5" y1="-9" x2="-10.5" y2="9" stroke="#1e1e1e" stroke-width="0.9"/><line x1="10.5" y1="-9" x2="10.5" y2="9" stroke="#1e1e1e" stroke-width="0.9"/><rect x="-17" y="9" width="34" height="2.8" stroke="#1e1e1e" stroke-width="1" fill="none"/><circle cx="0" cy="0" r="2" fill="#1e1e1e"/></g>
<line x1="460.19" y1="308.69" x2="498.38" y2="346.88" stroke="#1e1e1e" stroke-width="0.9" />
<line x1="492.72" y1="341.22" x2="501.91" y2="350.41" stroke="#1e1e1e" stroke-width="3.2" />
<line x1="501.91" y1="350.41" x2="542.22" y2="390.72" stroke="#1e1e1e" stroke-width="1.0" />
<g transform="translate(667.73,321.77) rotate(405)"><rect x="-13.8" y="-9" width="27.6" height="18" stroke="#1e1e1e" stroke-width="1.2" fill="none"/><line x1="-10.5" y1="-9" x2="-10.5" y2="9" stroke="#1e1e1e" stroke-width="0.9"/><line x1="10.5" y1="-9" x2="10.5" y2="9" stroke="#1e1e1e" stroke-width="0.9"/><rect x="-17" y="9" width="34" height="2.8" stroke="#1e1e1e" stroke-width="1" fill="none"/><circle cx="0" cy="0" r="2" fill="#1e1e1e"/></g>
<line x1="680.81" y1="308.69" x2="642.62" y2="346.88" stroke="#1e1e1e" stroke-width="0.9" />
<line x1="648.28" y1="341.22" x2="639.09" y2="350.41" stroke="#1e1e1e" stroke-width="3.2" />
<line x1="639.09" y1="350.41" x2="612.22" y2="377.28" stroke="#1e1e1e" stroke-width="1.0" />
<circle cx="630.50" cy="315.08" r="2.60" stroke="#1e1e1e" stroke-width="0" fill="#1e1e1e" />
<text x="622.50" y="301.90" font-size="14" fill="#2a2a2a" textLength="10.20" lengthAdjust="spacingAndGlyphs">m</text>
<circle cx="466.58" cy="359.00" r="2.50" stroke="#1e1e1e" stroke-width="1.0" fill="none" />
<line x1="570.50" y1="419.00" x2="638.50" y2="301.22" stroke="#1e1e1e" stroke-width="1.0" />
<line x1="619.00" y1="391.00" x2="688.28" y2="351.00" stroke="#1e1e1e" stroke-width="1.0" />
<line x1="624.59" y1="433.49" x2="705.73" y2="455.23" stroke="#1e1e1e" stroke-width="1.0" />
<line x1="521.24" y1="432.20" x2="436.24" y2="454.98" stroke="#1e1e1e" stroke-width="1.0" />
<line x1="515.94" y1="387.50" x2="440.08" y2="343.70" stroke="#1e1e1e" stroke-width="1.0" />
<line x1="545.99" y1="471.57" x2="512.35" y2="543.71" stroke="#1e1e1e" stroke-width="1.0" />
<line x1="596.28" y1="474.28" x2="628.40" y2="543.16" stroke="#1e1e1e" stroke-width="1.0" />
<line x1="570.50" y1="549.00" x2="570.50" y2="557.00" stroke="#1e1e1e" stroke-width="1.0" />
<text x="558.65" y="276.00" font-size="16" fill="#2a2a2a" textLength="34.65" lengthAdjust="spacingAndGlyphs">270°</text>
<text x="636.50" y="296.10" font-size="16" fill="#2a2a2a" textLength="32.90" lengthAdjust="spacingAndGlyphs">300°</text>
<text x="437.20" y="305.60" font-size="16" fill="#2a2a2a" textLength="36.70" lengthAdjust="spacingAndGlyphs">225°</text>
<text x="682.40" y="306.80" font-size="16" fill="#2a2a2a" textLength="33.10" lengthAdjust="spacingAndGlyphs">315°</text>
<text x="414.30" y="338.80" font-size="16" fill="#2a2a2a" textLength="29.10" lengthAdjust="spacingAndGlyphs">210°</text>
<text x="691.30" y="353.90" font-size="16" fill="#2a2a2a" textLength="33.90" lengthAdjust="spacingAndGlyphs">330°</text>
<text x="417.60" y="404.00" font-size="16.5" fill="#2a2a2a" textLength="19.10" lengthAdjust="spacingAndGlyphs">k2</text>
<text x="398.80" y="422.90" font-size="16" fill="#2a2a2a" textLength="32.40" lengthAdjust="spacingAndGlyphs">180°</text>
<text x="716.40" y="404.00" font-size="14.5" fill="#2a2a2a" textLength="71.40" lengthAdjust="spacingAndGlyphs">K1(n1;n2)</text>
<text x="712.40" y="425.00" font-size="16" fill="#2a2a2a" textLength="15.40" lengthAdjust="spacingAndGlyphs">0°</text>
<text x="401.00" y="461.60" font-size="16" fill="#2a2a2a" textLength="33.50" lengthAdjust="spacingAndGlyphs">165°</text>
<text x="711.40" y="462.00" font-size="16" fill="#2a2a2a" textLength="23.40" lengthAdjust="spacingAndGlyphs">15°</text>
<text x="477.80" y="464.50" font-size="15" fill="#2a2a2a" textLength="9.00" lengthAdjust="spacingAndGlyphs">g</text>
<text x="653.40" y="459.00" font-size="12.5" fill="#2a2a2a" textLength="10.40" lengthAdjust="spacingAndGlyphs">d</text>
<text x="481.60" y="389.30" font-size="13.5" fill="#2a2a2a" textLength="10.20" lengthAdjust="spacingAndGlyphs">h</text>
<text x="640.40" y="367.50" font-size="14" fill="#2a2a2a" textLength="10.90" lengthAdjust="spacingAndGlyphs">c</text>
<text x="411.30" y="503.10" font-size="14" fill="#2a2a2a" textLength="8.90" lengthAdjust="spacingAndGlyphs">4</text>
<line x1="421.90" y1="498.30" x2="429.40" y2="498.30" stroke="#2a2a2a" stroke-width="1.3" />
<text x="435.00" y="501.50" font-size="14" fill="#2a2a2a" textLength="9.55" lengthAdjust="spacingAndGlyphs">ϕ</text>
<line x1="409.40" y1="505.00" x2="446.25" y2="505.00" stroke="#3a3a3a" stroke-width="0.9" />
<line x1="446.25" y1="505.00" x2="473.10" y2="516.25" stroke="#3a3a3a" stroke-width="0.9" />
<text x="435.00" y="541.90" font-size="16" fill="#2a2a2a" textLength="32.70" lengthAdjust="spacingAndGlyphs">135°</text>
<text x="689.40" y="539.00" font-size="16" fill="#2a2a2a" textLength="25.40" lengthAdjust="spacingAndGlyphs">45°</text>
<text x="534.70" y="508.00" font-size="14" fill="#2a2a2a" textLength="8.00" lengthAdjust="spacingAndGlyphs">f</text>
<text x="613.65" y="501.75" font-size="14" fill="#2a2a2a" textLength="8.90" lengthAdjust="spacingAndGlyphs">e</text>
<text x="493.15" y="563.00" font-size="16" fill="#2a2a2a" textLength="28.65" lengthAdjust="spacingAndGlyphs">115°</text>
<text x="621.90" y="561.75" font-size="16" fill="#2a2a2a" textLength="26.15" lengthAdjust="spacingAndGlyphs">65°</text>
<text x="558.90" y="576.00" font-size="16" fill="#2a2a2a" textLength="24.40" lengthAdjust="spacingAndGlyphs">90°</text>
<text x="649.40" y="406.50" font-size="14" fill="#2a2a2a" textLength="34.40" lengthAdjust="spacingAndGlyphs">(n3)</text>
<text x="529.40" y="611.00" font-size="14.5" fill="#2a2a2a" textLength="93.90" lengthAdjust="spacingAndGlyphs">F1500L~F6300L</text>
</svg></body></html>
